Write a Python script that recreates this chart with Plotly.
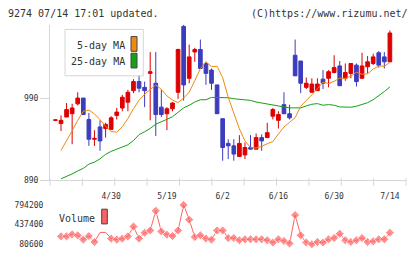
import plotly.graph_objects as go

# ---------------- data ----------------
idx = list(range(61))
opens = [963, 959, 967, 971, 983, 990, 964, 940, 955, 953, 952, 969, 978, 985, 999, 1010, 1003, 1020, 1008, 979,
         971, 977, 997, 1077, 1014, 1046, 1049, 1032, 1024, 1006, 965, 935, 932, 919, 921, 930, 928, 942, 942, 968,
         963, 982, 971, 1042, 1035, 1003, 997, 999, 1013, 1014, 1021, 1029, 1014, 1020, 1030, 1014, 1028, 1032, 1045, 1040,
         1034]
highs = [964, 969, 984, 983, 997, 990, 972, 951, 963, 960, 968, 978, 994, 1000, 1013, 1019, 1010, 1046, 1046, 1000,
         979, 985, 1050, 1079, 1055, 1051, 1061, 1034, 1026, 1006, 965, 940, 940, 945, 936, 945, 947, 946, 960, 978,
         974, 997, 982, 1061, 1035, 1015, 1014, 1014, 1024, 1024, 1042, 1035, 1032, 1032, 1032, 1045, 1041, 1044, 1047, 1046,
         1072]
lows = [962, 950, 967, 934, 981, 970, 932, 932, 926, 942, 952, 964, 974, 974, 996, 997, 979, 963, 944, 967,
        951, 974, 989, 987, 1008, 1034, 1026, 1006, 1000, 971, 914, 916, 914, 919, 916, 928, 928, 926, 942, 964,
        953, 971, 964, 1017, 996, 1001, 997, 999, 1001, 1003, 1020, 1005, 1011, 1014, 1004, 1014, 1020, 1030, 1027, 1026,
        1034]
closes = [963.5, 963, 976, 978, 990, 970, 940, 941, 938, 958, 966, 973, 991, 997, 1010, 1002, 999, 1022, 970, 970,
          977, 984, 1049, 1006, 1040, 1049, 1026, 1020, 1008, 971, 930, 932, 922, 935, 930, 928, 942, 938, 948, 976,
          970, 971, 966, 1017, 1008, 1008, 1007, 1007, 1008, 1022, 1027, 1005, 1021, 1032, 1010, 1029, 1034, 1040, 1030, 1034,
          1069]
ma5 = [None, 926.5, 938.0, 950.3, 963.0, 974.0, 975.4, 970.8, 963.8, 955.8, 949.4, 948.6, 955.2, 965.2, 977.0,
       987.4, 994.6, 999.8, 1006.0, 1000.6, 992.6, 987.6, 984.6, 990.0, 997.2, 1011.2, 1025.6, 1034.0, 1028.2, 1028.6,
       1014.8, 991.0, 972.2, 952.6, 938.0, 929.8, 929.4, 931.4, 934.6, 937.2, 946.4, 954.8, 960.6, 966.2, 980.0,
       986.4, 994.0, 1001.2, 1009.4, 1007.6, 1010.4, 1014.2, 1013.8, 1016.6, 1021.4, 1019.0, 1019.4, 1025.2, 1029.0, 1028.6,
       1033.4]
ma25 = [None, 892.0, 894.8, 897.9, 901.5, 904.7, 909.8, 912.2, 916.2, 921.7, 925.3, 927.7, 930.5, 933.3, 938.4,
        945.6, 949.1, 953.1, 958.3, 961.0, 964.2, 967.4, 972.9, 978.1, 981.3, 985.2, 988.0, 988.0, 990.8, 990.8,
        990.8, 990.4, 989.2, 988.8, 988.4, 987.2, 985.2, 984.0, 983.3, 982.1, 980.1, 978.9, 978.1, 978.1, 978.1,
        980.5, 982.5, 983.3, 981.3, 982.1, 981.3, 979.3, 978.9, 978.9, 980.1, 982.1, 984.4, 988.0, 992.4, 997.9,
        1003.5]
volume = [None, 223000, 223000, 259000, 241200, 164400, 228700, 121600, 294700, 294700, 182300, 164400, 182300,
          223000, 401700, 182300, 289300, 330400, 687200, 312500, 253600, 228700, 330400, 794200, 526600, 210800,
          241200, 182300, 164400, 330400, 330400, 193000, 193000, 152000, 169800, 169800, 169800, 169800, 152000,
          110900, 169800, 139500, 93100, 610400, 241200, 110900, 80600, 121600, 110900, 169800, 193000, 271500,
          152000, 121600, 152000, 193000, 121600, 134100, 169800, 169800, 289300]
vol_hidden = [8, 9]
date_labels = ["4/30", "5/19", "6/2", "6/16", "6/30", "7/14"]
date_pos = [10, 20, 30, 40, 50, 60]
price_ticks = [890, 990]
vol_ticks = [80600, 437400, 794200]

# ---------------- style ----------------
W, H = 420, 259
RED = "#dd0000"
BLUE = "#3c3cbe"
ORANGE = "#f08a10"
GREEN = "#16a016"
PINK = "#ff6262"
AX = "#d6d6d6"
TXT = "#333333"
FONT = "DejaVu Sans Mono"


def xp(p):
    return p / W


def yp(p):
    return 1 - p / H


x_range = [-0.974, 62.89]
x_dom = [xp(50), xp(406)]

fig = go.Figure()
fig.add_trace(go.Candlestick(
    x=idx, open=opens, high=highs, low=lows, close=closes,
    increasing=dict(line=dict(color=RED, width=1), fillcolor=RED),
    decreasing=dict(line=dict(color=BLUE, width=1), fillcolor=BLUE),
    whiskerwidth=0, showlegend=False, hoverinfo="skip",
    xaxis="x", yaxis="y"))
fig.add_trace(go.Scatter(x=idx, y=ma25, mode="lines", line=dict(color=GREEN, width=1),
                         showlegend=False, xaxis="x", yaxis="y"))
fig.add_trace(go.Scatter(x=idx, y=ma5, mode="lines", line=dict(color=ORANGE, width=1),
                         showlegend=False, xaxis="x", yaxis="y"))
sizes = [0 if i in vol_hidden else 7 for i in idx]
fig.add_trace(go.Scatter(x=idx, y=volume, mode="lines+markers",
                         line=dict(color=PINK, width=1),
                         marker=dict(symbol="diamond", size=sizes, color=PINK),
                         connectgaps=False, showlegend=False, xaxis="x2", yaxis="y2"))

tickfont = dict(family=FONT, size=8, color=TXT)
fig.update_layout(
    width=W, height=H, margin=dict(l=0, r=0, t=0, b=0),
    paper_bgcolor="white", plot_bgcolor="white",
    showlegend=False, boxgap=0.06,
    xaxis=dict(domain=x_dom, range=x_range, anchor="y", rangeslider=dict(visible=False),
               tickvals=date_pos, ticktext=date_labels, ticks="outside", ticklen=8,
               tickcolor="rgba(0,0,0,0)", showline=True, linecolor=AX, linewidth=1,
               showgrid=False, zeroline=False, tickfont=tickfont),
    yaxis=dict(domain=[yp(184), yp(25)], range=[890, 1079.3], anchor="x",
               tickvals=price_ticks, ticks="outside", ticklen=9, tickcolor=AX,
               showline=True, linecolor=AX, linewidth=1, showgrid=False, zeroline=False,
               tickfont=tickfont),
    xaxis2=dict(domain=x_dom, range=x_range, anchor="y2", visible=False),
    yaxis2=dict(domain=[yp(253), yp(205)], range=[9240, 865560], anchor="x2",
                tickvals=vol_ticks, ticktext=[str(v) for v in vol_ticks],
                ticks="outside", ticklen=4, tickcolor="rgba(0,0,0,0)",
                showline=False, showgrid=False, zeroline=False, tickfont=tickfont),
)

shapes = []
# x-axis tick marks (evenly spaced)
for k in range(12):
    xx = 50 + k * (356 / 11)
    shapes.append(dict(type="line", xref="paper", yref="paper", x0=xp(xx), x1=xp(xx),
                       y0=yp(181.5), y1=yp(189.5), line=dict(color=AX, width=1)))
# legend box
shapes.append(dict(type="rect", xref="paper", yref="paper", x0=xp(65), x1=xp(143.3),
                   y0=yp(77.3), y1=yp(30), line=dict(color=AX, width=1), fillcolor="white", layer="above"))
shapes.append(dict(type="rect", xref="paper", yref="paper", x0=xp(131), x1=xp(137),
                   y0=yp(52.3), y1=yp(37.3), line=dict(color="#444", width=1), fillcolor=ORANGE, layer="above"))
shapes.append(dict(type="rect", xref="paper", yref="paper", x0=xp(131), x1=xp(137),
                   y0=yp(69.3), y1=yp(54.3), line=dict(color="#444", width=1), fillcolor=GREEN, layer="above"))
shapes.append(dict(type="rect", xref="paper", yref="paper", x0=xp(101.7), x1=xp(107.3),
                   y0=yp(228.3), y1=yp(213.3), line=dict(color="#444", width=1), fillcolor=PINK, layer="above"))
fig.update_layout(shapes=shapes)

ann_font = dict(family=FONT, size=10, color=TXT)
anns = [
    dict(text="9274 07/14 17:01 updated.", x=xp(7), y=yp(13.3), xanchor="left"),
    dict(text="(C)https://www.rizumu.net/", x=xp(409), y=yp(13.3), xanchor="right"),
    dict(text="5-day MA", x=xp(126), y=yp(46), xanchor="right"),
    dict(text="25-day MA", x=xp(126), y=yp(62.7), xanchor="right"),
    dict(text="Volume", x=xp(57.5), y=yp(222.3), xanchor="left"),
]
for a in anns:
    a.update(xref="paper", yref="paper", yanchor="middle", showarrow=False, font=ann_font,
             borderpad=0)
fig.update_layout(annotations=anns)

fig.write_html("out.html")
